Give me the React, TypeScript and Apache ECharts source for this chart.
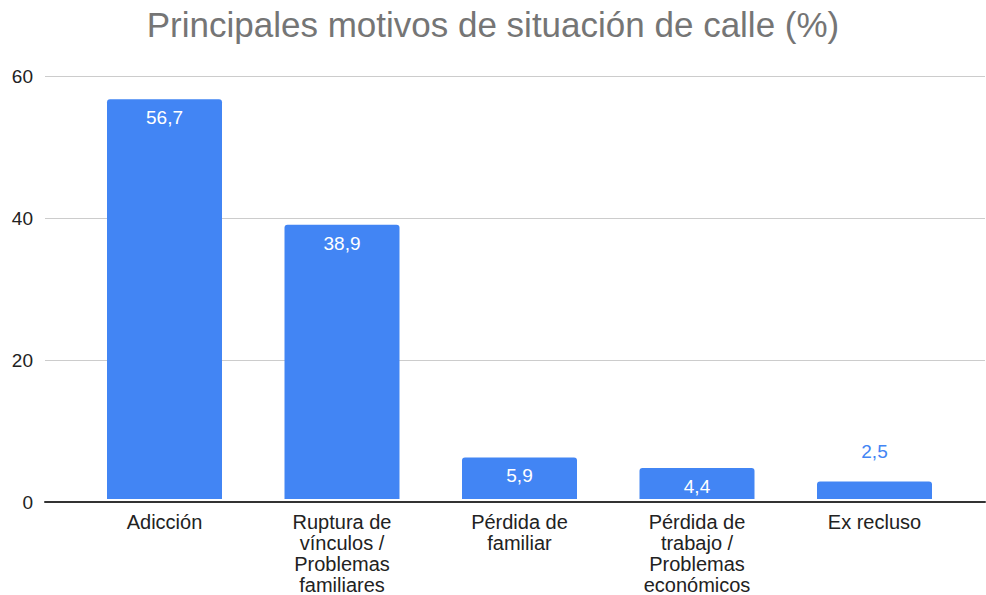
import React, { useEffect, useRef } from "react";
import * as echarts from "echarts";

const titleText = "Principales motivos de situación de calle (%)";
const categories = [
  "Adicción",
  "Ruptura de\nvínculos /\nProblemas\nfamiliares",
  "Pérdida de\nfamiliar",
  "Pérdida de\ntrabajo /\nProblemas\neconómicos",
  "Ex recluso",
];
const values = [56.7, 38.9, 5.9, 4.4, 2.5];
const outsideLabelIdx = [4];
const yTicks = [0, 20, 40, 60];

const BLUE = "#4285F4";
const FONT = "'Liberation Sans', Arial, sans-serif";

export default function App() {
  const ref = useRef<HTMLDivElement>(null);
  useEffect(() => {
    if (!ref.current) return;
    const chart = echarts.init(ref.current, null, { renderer: "svg" });
    const fmt = (v: number) => String(v).replace(".", ",");
    const data = values.map((v, i) =>
      outsideLabelIdx.includes(i)
        ? {
            value: v,
            label: { position: "top", distance: 20, color: BLUE },
          }
        : { value: v }
    );
    chart.setOption({
      animation: false,
      textStyle: { fontFamily: FONT },
      title: {
        text: titleText,
        left: "center",
        top: 2,
        textStyle: { fontSize: 35, fontWeight: "normal", color: "#757575", fontFamily: FONT },
      },
      grid: [
        { left: 45, right: 1, top: 76, bottom: 93, containLabel: false },
        { left: 75.75, width: 887.5, top: 76, bottom: 93, containLabel: false },
      ],
      xAxis: [
        {
          type: "category",
          gridIndex: 0,
          data: [""],
          axisLine: { show: true, lineStyle: { color: "#333333", width: 2 } },
          axisTick: { show: false },
          axisLabel: { show: false },
        },
        {
          type: "category",
          gridIndex: 1,
          data: categories,
          axisLine: { show: false },
          axisTick: { show: false },
          axisLabel: {
            interval: 0,
            color: "#222222",
            fontSize: 20,
            lineHeight: 21,
            margin: 12,
            fontFamily: FONT,
          },
        },
      ],
      yAxis: [
        {
          type: "value",
          gridIndex: 0,
          min: yTicks[0],
          max: yTicks[yTicks.length - 1],
          interval: 20,
          axisLine: { show: false },
          axisTick: { show: false },
          axisLabel: { color: "#222222", fontSize: 19, margin: 12, fontFamily: FONT },
          splitLine: { lineStyle: { color: "#cccccc", width: 1 } },
        },
        {
          type: "value",
          gridIndex: 1,
          min: yTicks[0],
          max: yTicks[yTicks.length - 1],
          interval: 20,
          show: false,
          splitLine: { show: false },
        },
      ],
      series: [
        {
          type: "bar",
          xAxisIndex: 1,
          yAxisIndex: 1,
          data,
          barWidth: 115,
          itemStyle: { color: BLUE, borderRadius: [3, 3, 0, 0] },
          label: {
            show: true,
            position: "insideTop",
            distance: 9,
            color: "#ffffff",
            fontSize: 19,
            fontFamily: FONT,
            formatter: (p: any) => fmt(p.value),
          },
          z: 3,
        },
      ],
    });
    return () => chart.dispose();
  }, []);
  return <div ref={ref} style={{ width: 986, height: 595, position: "absolute", left: 0, top: 0 }} />;
}
